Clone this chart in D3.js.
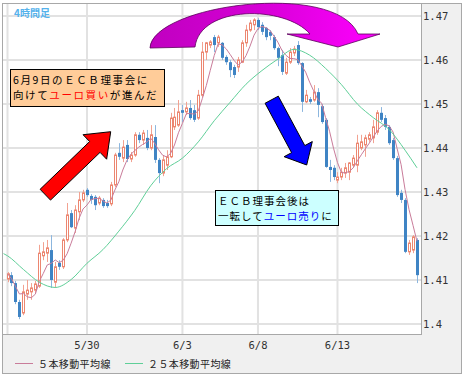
<!DOCTYPE html>
<html>
<head>
<meta charset="utf-8">
<script src="https://cdn.jsdelivr.net/npm/d3@7"></script>
<style>
  html, body { margin: 0; padding: 0; background: #fff; }
  svg { display: block; }
</style>
</head>
<body>
<div id="chart"></div>
<script>
// 4時間足 EUR/USD ローソク足
const openP = [1.4102,1.4111,1.4093,1.4050,1.4025,1.4068,1.4073,1.4077,1.4086,1.4155,
  1.4161,1.4168,1.4095,1.4139,1.4130,1.4191,1.4252,1.4218,1.4255,1.4282,
  1.4305,1.4291,1.4289,1.4275,1.4282,1.4275,1.4273,1.4316,1.4389,1.4377,
  1.4407,1.4375,1.4384,1.4430,1.4418,1.4423,1.4400,1.4425,1.4373,1.4343,
  1.4361,1.4380,1.4448,1.4452,1.4486,1.4482,1.4491,1.4486,1.4468,1.4520,
  1.4618,1.4634,1.4652,1.4639,1.4639,1.4607,1.4595,1.4584,1.4584,1.4595,
  1.4639,1.4668,1.4680,1.4691,1.4680,1.4673,1.4664,1.4652,1.4627,1.4611,
  1.4570,1.4595,1.4616,1.4634,1.4593,1.4505,1.4511,1.4509,1.4527,1.4495,
  1.4464,1.4357,1.4355,1.4327,1.4334,1.4343,1.4345,1.4361,1.4361,1.4400,
  1.4407,1.4420,1.4423,1.4436,1.4480,1.4468,1.4448,1.4418,1.4377,1.4298,
  1.4282,1.4164,1.4168,1.4191];
const highP = [1.4118,1.4118,1.4098,1.4055,1.4089,1.4100,1.4093,1.4098,1.4180,1.4186,
  1.4191,1.4202,1.4141,1.4145,1.4195,1.4275,1.4259,1.4270,1.4300,1.4305,
  1.4309,1.4295,1.4293,1.4291,1.4286,1.4282,1.4323,1.4389,1.4411,1.4418,
  1.4418,1.4391,1.4436,1.4436,1.4441,1.4441,1.4452,1.4452,1.4377,1.4384,
  1.4395,1.4480,1.4491,1.4509,1.4498,1.4505,1.4509,1.4498,1.4532,1.4641,
  1.4641,1.4645,1.4657,1.4657,1.4641,1.4611,1.4600,1.4589,1.4607,1.4645,
  1.4680,1.4691,1.4695,1.4695,1.4686,1.4675,1.4668,1.4657,1.4630,1.4623,
  1.4605,1.4627,1.4632,1.4643,1.4595,1.4532,1.4516,1.4543,1.4536,1.4500,
  1.4468,1.4373,1.4361,1.4345,1.4355,1.4366,1.4368,1.4384,1.4430,1.4430,
  1.4430,1.4436,1.4464,1.4486,1.4493,1.4475,1.4452,1.4423,1.4382,1.4305,
  1.4286,1.4191,1.4202,1.4195];
const lowP = [1.4095,1.4086,1.4045,1.4011,1.4020,1.4055,1.4055,1.4068,1.4082,1.4145,
  1.4141,1.4082,1.4082,1.4123,1.4125,1.4186,1.4218,1.4207,1.4236,1.4277,
  1.4289,1.4273,1.4259,1.4270,1.4264,1.4264,1.4268,1.4311,1.4373,1.4368,
  1.4368,1.4368,1.4380,1.4411,1.4407,1.4395,1.4395,1.4366,1.4320,1.4336,
  1.4350,1.4377,1.4441,1.4448,1.4459,1.4475,1.4464,1.4459,1.4464,1.4516,
  1.4600,1.4627,1.4618,1.4630,1.4600,1.4589,1.4561,1.4559,1.4573,1.4593,
  1.4630,1.4664,1.4668,1.4668,1.4657,1.4645,1.4645,1.4623,1.4586,1.4566,
  1.4566,1.4591,1.4609,1.4589,1.4482,1.4502,1.4500,1.4505,1.4470,1.4455,
  1.4355,1.4323,1.4327,1.4320,1.4327,1.4332,1.4327,1.4355,1.4345,1.4395,
  1.4380,1.4414,1.4411,1.4430,1.4459,1.4441,1.4407,1.4373,1.4289,1.4275,
  1.4161,1.4157,1.4161,1.4093];
const closeP = [1.4114,1.4093,1.4050,1.4016,1.4073,1.4077,1.4082,1.4091,1.4161,1.4164,
  1.4173,1.4100,1.4130,1.4130,1.4191,1.4248,1.4220,1.4259,1.4282,1.4298,
  1.4293,1.4282,1.4270,1.4286,1.4268,1.4268,1.4316,1.4384,1.4380,1.4402,
  1.4375,1.4384,1.4430,1.4418,1.4434,1.4400,1.4430,1.4373,1.4343,1.4373,
  1.4380,1.4468,1.4470,1.4482,1.4480,1.4491,1.4468,1.4464,1.4520,1.4618,
  1.4639,1.4641,1.4634,1.4652,1.4605,1.4595,1.4577,1.4566,1.4600,1.4639,
  1.4668,1.4684,1.4691,1.4675,1.4664,1.4652,1.4655,1.4627,1.4605,1.4573,
  1.4595,1.4618,1.4625,1.4593,1.4505,1.4520,1.4505,1.4527,1.4498,1.4459,
  1.4357,1.4350,1.4334,1.4334,1.4345,1.4355,1.4366,1.4377,1.4411,1.4414,
  1.4423,1.4430,1.4448,1.4480,1.4464,1.4448,1.4411,1.4377,1.4293,1.4282,
  1.4164,1.4184,1.4198,1.4111];

// 25本移動平均線 (at these bar indexes)
const ma25Idx = [-1,0,4,8,12,16,20,24,28,32,36,40,44,48,52,56,60,64,68,72,76,80,84,88,92,96,100,103];
const ma25Val = [1.4160,1.4155,1.4124,1.4095,1.4083,1.4101,1.4138,1.4169,1.4211,1.4258,
  1.4314,1.4353,1.4377,1.4414,1.4462,1.4504,1.4545,1.4576,1.4602,1.4624,
  1.4611,1.4581,1.4544,1.4500,1.4469,1.4442,1.4395,1.4355];

const yTicks = [1.47,1.46,1.45,1.44,1.43,1.42,1.41,1.40];
const yTickLabels = ["1.47","1.46","1.45","1.44","1.43","1.42","1.41","1.4"];
const xTickIdx = [0,20,44,63,83];
const xTickLabels = ["","5/30","6/3","6/8","6/13"];
const legendLabels = ["５本移動平均線","２５本移動平均線"];

const W = 464, H = 377;
const plot = {l: 3, r: 421, t: 4, b: 334};
const N = closeP.length;

const colUp = "#ec8670", colUpWick = "#f2a291";
const colDn = "#3f84c4", colDnWick = "#8cb6de";
const colMa5 = "#c97c9a", colMa25 = "#5fcf98";

const x = d3.scaleLinear().domain([0, N - 1]).range([7.5, 417]);
const y = d3.scaleLinear().domain([1.40, 1.47]).range([324, 16]);

const svg = d3.select("#chart").append("svg")
  .attr("width", W).attr("height", H);

const defs = svg.append("defs");
defs.append("clipPath").attr("id", "plotClip")
  .append("rect")
  .attr("x", plot.l).attr("y", plot.t)
  .attr("width", plot.r - plot.l).attr("height", plot.b - plot.t);

const grad = defs.append("linearGradient").attr("id", "magGrad")
  .attr("x1", "0%").attr("x2", "100%").attr("y1", "0%").attr("y2", "0%");
grad.append("stop").attr("offset", "0%").attr("stop-color", "#c000c0");
grad.append("stop").attr("offset", "45%").attr("stop-color", "#d400d4");
grad.append("stop").attr("offset", "100%").attr("stop-color", "#ff00ff");

// frame + background
svg.append("rect").attr("x", 2.5).attr("y", 3.5)
  .attr("width", 459).attr("height", 370)
  .attr("fill", "#f0f0f0").attr("stroke", "#a8a8a8");
svg.append("rect").attr("x", plot.l).attr("y", plot.t)
  .attr("width", plot.r - plot.l).attr("height", plot.b - plot.t)
  .attr("fill", "#fff");

// grid
const grid = svg.append("g");
grid.selectAll(".hg").data(yTicks).join("line")
  .attr("x1", plot.l).attr("x2", plot.r)
  .attr("y1", d => y(d)).attr("y2", d => y(d))
  .attr("stroke", "#e2e2e2").attr("stroke-width", 2);
grid.selectAll(".vg").data(xTickIdx).join("line")
  .attr("x1", d => x(d)).attr("x2", d => x(d))
  .attr("y1", plot.t).attr("y2", plot.b)
  .attr("stroke", "#e2e2e2").attr("stroke-width", 2);

// plot border lines
svg.append("line").attr("x1", plot.r + 0.5).attr("x2", plot.r + 0.5)
  .attr("y1", plot.t).attr("y2", plot.b + 1).attr("stroke", "#a8a8a8");
svg.append("line").attr("x1", plot.l).attr("x2", plot.r + 1)
  .attr("y1", plot.b + 0.5).attr("y2", plot.b + 0.5).attr("stroke", "#a8a8a8");

// candles
const bars = d3.range(N).map(i => ({
  i, o: openP[i], h: highP[i], l: lowP[i], c: closeP[i], up: closeP[i] >= openP[i]
}));
const cg = svg.append("g").attr("clip-path", "url(#plotClip)");
const candle = cg.selectAll(".candle").data(bars).join("g");
candle.append("line")
  .attr("x1", d => Math.round(x(d.i)) + 0.5).attr("x2", d => Math.round(x(d.i)) + 0.5)
  .attr("y1", d => y(d.h)).attr("y2", d => y(d.l))
  .attr("stroke", d => d.up ? colUpWick : colDnWick);
candle.filter(d => d.up).append("rect")
  .attr("x", d => Math.round(x(d.i)) - 0.5)
  .attr("y", d => y(d.c))
  .attr("width", 2)
  .attr("height", d => Math.max(1, y(d.o) - y(d.c)))
  .attr("fill", "#fff").attr("stroke", colUp);
candle.filter(d => !d.up).append("rect")
  .attr("x", d => Math.round(x(d.i)) - 1)
  .attr("y", d => y(d.o))
  .attr("width", 3)
  .attr("height", d => Math.max(1, y(d.c) - y(d.o)))
  .attr("fill", colDn);

// moving averages
const ma5 = bars.map(d => [d.i, d3.mean(closeP.slice(Math.max(0, d.i - 4), d.i + 1))]);
const line = d3.line().x(d => x(d[0])).y(d => y(d[1]));
cg.append("path").datum(ma5)
  .attr("d", line).attr("fill", "none").attr("stroke", colMa5).attr("stroke-width", 1);
cg.append("path").datum(ma25Idx.map((d, k) => [d, ma25Val[k]]))
  .attr("d", line.curve(d3.curveMonotoneX))
  .attr("fill", "none").attr("stroke", colMa25).attr("stroke-width", 1);

// axis labels
const mono = "'DejaVu Sans Mono', 'Liberation Mono', monospace";
svg.append("g").selectAll("text").data(yTicks).join("text")
  .attr("x", plot.r + 2).attr("y", d => y(d))
  .attr("dominant-baseline", "central")
  .attr("font-family", mono).attr("font-size", 10.5).attr("fill", "#333")
  .text((d, k) => yTickLabels[k]);
svg.append("g").selectAll("text").data(xTickIdx).join("text")
  .attr("x", d => x(d)).attr("y", 345)
  .attr("text-anchor", "middle").attr("dominant-baseline", "central")
  .attr("font-family", mono).attr("font-size", 10.5).attr("fill", "#333")
  .text((d, k) => xTickLabels[k]);

// legend
const jp = "'Noto Sans CJK JP', sans-serif";
const leg = svg.append("g");
[[15, colMa5], [125, colMa25]].forEach(([lx, c], k) => {
  leg.append("line").attr("x1", lx).attr("x2", lx + 18)
    .attr("y1", 363.5).attr("y2", 363.5).attr("stroke", c);
  leg.append("text").attr("x", lx + 23).attr("y", 363.5)
    .attr("dominant-baseline", "central")
    .attr("font-family", jp).attr("font-size", 10).attr("letter-spacing", 0.4)
    .attr("fill", "#222").text(legendLabels[k]);
});

// title
svg.append("text").attr("x", 14).attr("y", 12)
  .attr("dominant-baseline", "central")
  .attr("font-family", jp).attr("font-size", 10).attr("font-weight", "bold")
  .attr("fill", "#55b2ec").text("4時間足");

// annotations
function blockArrow(tail, tip, sw, hw, hl) {
  const dx = tip[0] - tail[0], dy = tip[1] - tail[1];
  const len = Math.hypot(dx, dy);
  const ux = dx / len, uy = dy / len, nx = -uy, ny = ux;
  const bx = tip[0] - ux * hl, by = tip[1] - uy * hl;
  const pts = [
    [tail[0] + nx * sw / 2, tail[1] + ny * sw / 2],
    [bx + nx * sw / 2, by + ny * sw / 2],
    [bx + nx * hw / 2, by + ny * hw / 2],
    tip,
    [bx - nx * hw / 2, by - ny * hw / 2],
    [bx - nx * sw / 2, by - ny * sw / 2],
    [tail[0] - nx * sw / 2, tail[1] - ny * sw / 2]
  ];
  return "M" + pts.map(p => p.join(",")).join("L") + "Z";
}
const ann = svg.append("g");
ann.append("path").attr("d", blockArrow([45.3, 194.7], [110.7, 131.7], 15, 34, 22))
  .attr("fill", "#ff0000").attr("stroke", "#000").attr("stroke-width", 1);
ann.append("path").attr("d", blockArrow([271.7, 99.7], [306.7, 165], 15, 32, 18))
  .attr("fill", "#0000ff").attr("stroke", "#000").attr("stroke-width", 1);

const curved = d3.path();
curved.moveTo(150, 48);
curved.bezierCurveTo(152, 5, 335, -20, 358, 34);
curved.lineTo(380, 34);
curved.lineTo(338, 47);
curved.lineTo(287, 34);
curved.lineTo(310, 34);
curved.bezierCurveTo(285, 5, 200, 5, 195, 47);
curved.closePath();
ann.append("path").attr("d", curved.toString())
  .attr("fill", "url(#magGrad)").attr("stroke", "#5a005a").attr("stroke-width", 0.8);

// note boxes: lines as tspans, spaced so their boxes do not collide
function noteBox(bx, by, bw, bh, fill, lines, hiColor, ls, y0) {
  const g = ann.append("g");
  g.append("rect").attr("x", bx + 0.5).attr("y", by + 0.5)
    .attr("width", bw).attr("height", bh)
    .attr("fill", fill).attr("stroke", "#000");
  const t = g.append("text")
    .attr("font-family", jp).attr("font-size", 10.5).attr("letter-spacing", ls)
    .attr("dominant-baseline", "central")
    .attr("fill", "#000");
  lines.forEach((ln, k) => {
    ln.forEach((seg, s) => {
      const ts = t.append("tspan")
        .attr("fill", seg[1] ? hiColor : "#000").text(seg[0]);
      if (s === 0) ts.attr("x", bx + 3).attr("y", y0 + k * 15.5);
    });
  });
}
noteBox(10, 69, 154, 37, "#ffcc99",
  [[["6月9日のＥＣＢ理事会に", false]],
   [["向けて", false], ["ユーロ買い", true], ["が進んだ", false]]], "#ff0000", 1.6, 78.5);
noteBox(215, 190, 123, 35, "#ccffff",
  [[["ＥＣＢ理事会後は", false]],
   [["一転して", false], ["ユーロ売り", true], ["に", false]]], "#0000ff", 1.0, 199.5);
</script>
</body>
</html>
